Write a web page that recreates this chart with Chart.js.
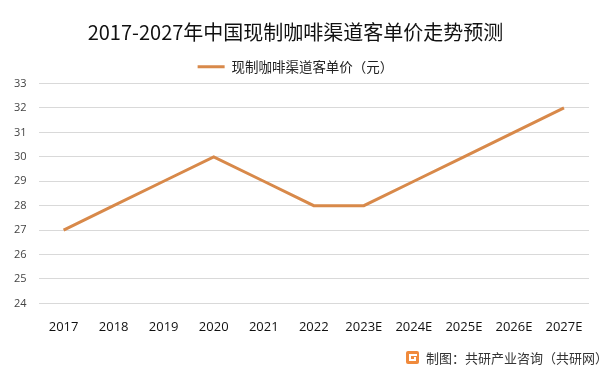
<!DOCTYPE html>
<html><head><meta charset="utf-8">
<script src="https://cdn.jsdelivr.net/npm/chart.js@4/dist/chart.umd.min.js"></script>
<style>html,body{margin:0;padding:0;background:#fff}#w{width:601px;height:374px;position:relative}</style>
</head><body><div id="w"><canvas id="c" width="601" height="374"></canvas></div>
<script>
const categories = ['2017','2018','2019','2020','2021','2022','2023E','2024E','2025E','2026E','2027E'];
const priceValues = [27,28,29,30,29,28,28,29,30,31,32];
const seriesName = '现制咖啡渠道客单价（元）';
const titleText = '2017-2027年中国现制咖啡渠道客单价走势预测';
const footerText = '制图：共研产业咨询（共研网）';
const yMin = 24, yMax = 33;

const footerPlugin = {
  id: 'footer',
  afterDraw(chart) {
    const ctx = chart.ctx;
    ctx.save();
    const lx = 406, ly = 351;
    ctx.fillStyle = '#F08A3C';
    ctx.beginPath();
    ctx.roundRect ? ctx.roundRect(lx, ly, 13, 13, 2) : ctx.rect(lx, ly, 13, 13);
    ctx.fill();
    ctx.fillStyle = '#fff';
    ctx.fillRect(lx + 3, ly + 3, 8, 2);
    ctx.fillRect(lx + 3, ly + 3, 2, 7);
    ctx.fillRect(lx + 3, ly + 8, 7, 2);
    ctx.fillRect(lx + 8, ly + 6, 2, 4);
    ctx.fillStyle = '#333';
    ctx.font = '13px "Noto Sans CJK SC", sans-serif';
    ctx.textBaseline = 'middle';
    ctx.textAlign = 'left';
    ctx.fillText(footerText, 426, 358);
    ctx.restore();
  }
};

new Chart(document.getElementById('c'), {
  type: 'line',
  data: {
    labels: categories,
    datasets: [{
      label: seriesName,
      data: priceValues,
      borderColor: '#D8894A',
      backgroundColor: '#D8894A',
      borderWidth: 3,
      pointRadius: 0,
      tension: 0,
      fill: false
    }]
  },
  options: {
    responsive: false,
    animation: false,
    layout: { padding: { left: 2, right: 12, top: 12, bottom: 31 } },
    plugins: {
      title: {
        display: true,
        text: titleText,
        color: '#111',
        font: { size: 20, family: '"Noto Sans CJK SC", sans-serif', weight: 'normal' },
        padding: { top: 8, bottom: 4 }
      },
      legend: {
        display: true,
        labels: {
          boxWidth: 27,
          boxHeight: 3,
          color: '#222',
          font: { size: 13.5, family: '"Noto Sans CJK SC", sans-serif' },
          padding: 12,
          generateLabels(chart) {
            const items = Chart.defaults.plugins.legend.labels.generateLabels(chart);
            items.forEach(it => { it.lineWidth = 0; });
            return items;
          }
        }
      },
      tooltip: { enabled: false }
    },
    scales: {
      x: {
        offset: true,
        grid: { display: false },
        border: { display: false },
        ticks: { color: '#111', font: { size: 13, family: '"Open Sans", "DejaVu Sans", sans-serif' }, padding: 8, maxRotation: 0, autoSkip: false }
      },
      y: {
        min: yMin, max: yMax,
        grid: { color: '#D9D9D9', drawTicks: false },
        border: { display: false },
        ticks: { stepSize: 1, color: '#444', font: { size: 11, family: '"Open Sans", "DejaVu Sans", sans-serif' }, padding: 12 }
      }
    }
  },
  plugins: [footerPlugin]
});
</script></body></html>
